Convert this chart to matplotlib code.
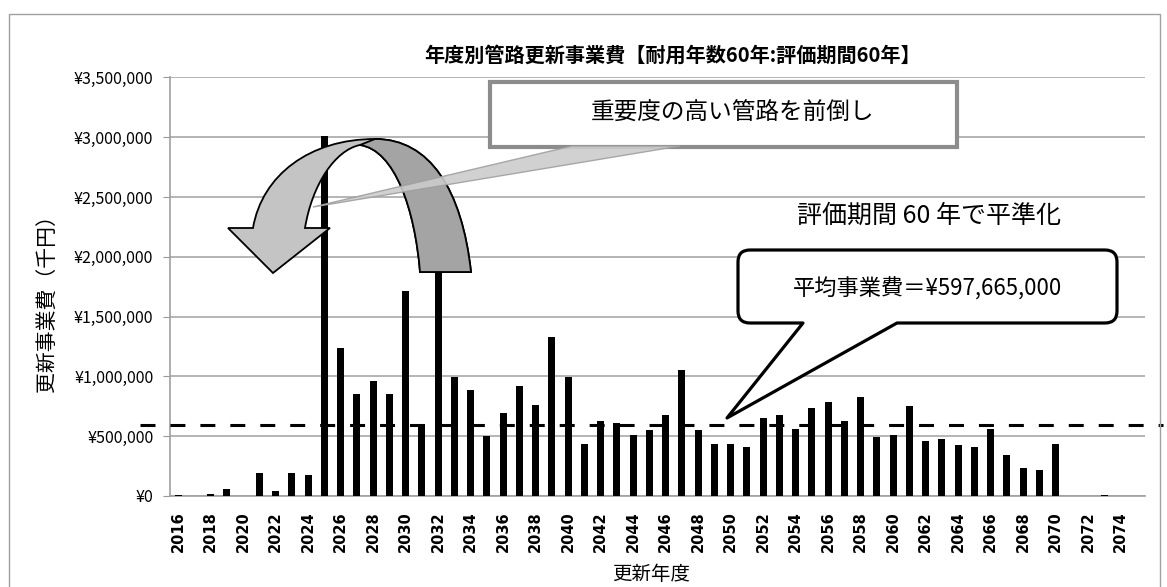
import numpy as np
import matplotlib
matplotlib.use('Agg')
import matplotlib.pyplot as plt
from matplotlib.path import Path
from matplotlib.patches import PathPatch, Rectangle, Polygon
from matplotlib.transforms import Affine2D

plt.rcParams['font.family'] = ['Noto Sans CJK JP', 'DejaVu Sans']

W, H = 1167, 587

# data (千円)
years = list(range(2016, 2076))
costs = [5000, 3000, 20000, 56000, 0, 195000, 40000, 195000, 175000, 3010000,
         1235000, 852000, 964000, 852000, 1712000, 606000, 2380000, 992000, 885000, 503000,
         698000, 922000, 763000, 1327000, 992000, 433000, 628000, 610000, 508000, 550000,
         676000, 1053000, 550000, 433000, 433000, 413000, 651000, 676000, 559000, 735000,
         782000, 628000, 824000, 494000, 508000, 751000, 461000, 480000, 427000, 413000,
         564000, 344000, 237000, 218000, 433000, 0, 3000, 5000, 0, 0]
avg_cost = 597665
y_ticks = [0, 500000, 1000000, 1500000, 2000000, 2500000, 3000000, 3500000]

title = '年度別管路更新事業費【耐用年数60年:評価期間60年】'
note_top = '重要度の高い管路を前倒し'
note_mid = '評価期間 60 年で平準化'
note_avg = '平均事業費＝¥597,665,000'

fig = plt.figure(figsize=(W / 100, H / 100), dpi=100)
# pixel coordinates (origin top-left) for the decorations
px = Affine2D().scale(1 / W, -1 / H).translate(0, 1) + fig.transFigure

left, right, bottom, top = 170, 1145, 496, 77.4
ax = fig.add_axes([left / W, 1 - bottom / H, (right - left) / W, (bottom - top) / H])

x = np.arange(len(years))
ax.bar(x, costs, width=0.42, color='black', zorder=3)

ax.set_xlim(-0.5, len(years) - 0.5)
ax.set_ylim(0, y_ticks[-1])
ax.set_yticks(y_ticks)
ax.set_yticklabels([f'¥{v:,}' for v in y_ticks], fontsize=11.5)
ax.set_xticks(x[::2])
ax.set_xticklabels([str(y) for y in years[::2]], rotation=90, fontsize=10.5,
                   fontweight='bold', family=['Liberation Sans Narrow', 'DejaVu Sans'])
ax.tick_params(axis='x', length=0, pad=11)
ax.tick_params(axis='y', length=5, color='#999999', pad=7)

ax.yaxis.grid(True, color='#a8a8a8', lw=1.2)
ax.set_axisbelow(True)
for s in ['top', 'right']:
    ax.spines[s].set_visible(False)
for s in ['left', 'bottom']:
    ax.spines[s].set_color('#a0a0a0')
    ax.spines[s].set_linewidth(1.2)

# average line, runs past both ends of the plot area
step = (right - left) / len(years)
x0 = (140 - left) / step - 0.5
x1 = (1163 - left) / step - 0.5
ax.plot([x0, x1], [avg_cost, avg_cost], color='black', lw=2.2,
        ls=(0, (4.9, 4.9)), clip_on=False, zorder=4)

# texts
fig.text(673, 55, title, transform=px, ha='center', va='center',
         fontsize=14.5, fontweight='bold')
fig.text(48, 298, '更新事業費（千円）', transform=px, rotation=90,
         ha='center', va='center', fontsize=15)
fig.text(651, 585, '更新年度', transform=px, ha='center', va='bottom', fontsize=14)

# chart frame
fig.add_artist(Rectangle((9, 14), 1151, 620, transform=px, fill=False,
                         edgecolor='#a0a0a0', lw=1, clip_on=False, zorder=0.5))

# curved arrow
band = [(471, 272), (462, 190), (430, 139), (375, 139),
        (310, 139), (262, 175), (253, 228),
        (228, 228), (273, 273), (330, 228), (305, 228),
        (312, 185), (335, 150), (360, 145),
        (395, 150), (415, 210), (420, 272), (471, 272)]
band_codes = ([Path.MOVETO] + [Path.CURVE4] * 6 + [Path.LINETO] * 4
              + [Path.CURVE4] * 6 + [Path.CLOSEPOLY])
fig.add_artist(PathPatch(Path(band, band_codes), transform=px,
                         facecolor='#c4c4c4', edgecolor='black', lw=1.3, zorder=5))
back = [(471, 272), (462, 190), (430, 139), (375, 139), (360, 145),
        (395, 150), (415, 210), (420, 272), (471, 272)]
back_codes = ([Path.MOVETO] + [Path.CURVE4] * 3 + [Path.LINETO]
              + [Path.CURVE4] * 3 + [Path.CLOSEPOLY])
fig.add_artist(PathPatch(Path(back, back_codes), transform=px,
                         facecolor='#a4a4a4', edgecolor='black', lw=1.3, zorder=5.1))

# grey callout
fig.add_artist(Rectangle((490, 82), 467, 65, transform=px, facecolor='white',
                         edgecolor='#8c8c8c', lw=3, zorder=6))
fig.add_artist(Polygon([(313, 207), (572, 146), (680, 146)], closed=True,
                       transform=px, facecolor='#cccccc', edgecolor='#a0a0a0',
                       lw=1, alpha=0.9, zorder=6.1))
fig.text(733, 112, note_top, transform=px, ha='center', va='center',
         fontsize=17, zorder=7)

fig.text(929, 216, note_mid, transform=px, ha='center', va='center',
         fontsize=18, zorder=7)

# black rounded callout pointing at the average line
bx0, bx1, by0, by1, r = 738, 1117, 250, 323, 12
callout = [(bx0 + r, by0), (bx1 - r, by0), (bx1, by0), (bx1, by0 + r),
           (bx1, by1 - r), (bx1, by1), (bx1 - r, by1),
           (897, by1), (727, 418), (803, by1),
           (bx0 + r, by1), (bx0, by1), (bx0, by1 - r),
           (bx0, by0 + r), (bx0, by0), (bx0 + r, by0), (bx0 + r, by0)]
callout_codes = [Path.MOVETO, Path.LINETO, Path.CURVE3, Path.CURVE3,
                 Path.LINETO, Path.CURVE3, Path.CURVE3,
                 Path.LINETO, Path.LINETO, Path.LINETO,
                 Path.LINETO, Path.CURVE3, Path.CURVE3,
                 Path.LINETO, Path.CURVE3, Path.CURVE3, Path.CLOSEPOLY]
fig.add_artist(PathPatch(Path(callout, callout_codes), transform=px,
                         facecolor='white', edgecolor='black', lw=2.3,
                         joinstyle='round', zorder=6))
fig.text(927, 289, note_avg, transform=px, ha='center', va='center',
         fontsize=16, zorder=7)

fig.savefig('out.png', dpi=100)
